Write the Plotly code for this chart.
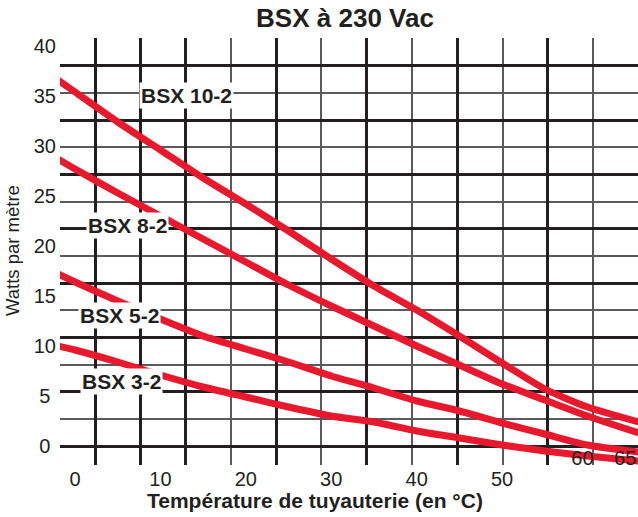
import plotly.graph_objects as go

# ---------------- data ----------------
temps = [-2, 0, 5, 10, 15, 20, 25, 30, 35, 40, 45, 50, 55, 60, 66]
bsx_10_2 = [36.6, 35.4, 32.4, 29.6, 26.8, 24.2, 21.5, 18.7, 16.0, 13.6, 11.0, 8.3, 5.7, 3.9, 2.4]
bsx_8_2 = [28.7, 27.7, 25.3, 23.0, 20.7, 18.4, 16.1, 14.0, 12.0, 10.0, 8.1, 6.2, 4.6, 3.0, 1.3]
bsx_5_2 = [17.2, 16.4, 14.5, 12.7, 11.0, 9.7, 8.4, 7.0, 5.8, 4.5, 3.5, 2.3, 1.2, 0.1, -0.6]
bsx_3_2 = [10.0, 9.6, 8.4, 7.1, 5.9, 4.9, 3.9, 3.0, 2.4, 1.5, 0.8, 0.1, -0.5, -1.0, -1.5]

series_names = ["BSX 10-2", "BSX 8-2", "BSX 5-2", "BSX 3-2"]
series_values = [bsx_10_2, bsx_8_2, bsx_5_2, bsx_3_2]
label_x = [13.1, 6.1, 5.15, 5.4]
label_y = [35.1, 22.1, 13.1, 6.5]

x_ticks_outer = [0, 10, 20, 30, 40, 50]
x_ticks_inner = [60, 65]
y_ticks = [0, 5, 10, 15, 20, 25, 30, 35, 40]

title_text = "BSX à 230 Vac"
x_title = "Température de tuyauterie (en °C)"
y_title = "Watts par mètre"

# ---------------- styling ----------------
RED = "#E8192C"
INK = "#231F20"
FONT = "Liberation Sans, Arial, sans-serif"
X_RANGE = [-1.76, 65.92]
Y_RANGE = [-1.9, 40.8]

W, H = 638, 517
ML, MT, MB = 60, 38, 52
PW, PH = W - ML, H - MT - MB

fig = go.Figure()

for name, vals in zip(series_names, series_values):
    fig.add_trace(go.Scatter(
        x=temps, y=vals, mode="lines", name=name,
        line=dict(color=RED, width=7, shape="spline", smoothing=0.6),
        showlegend=False, hoverinfo="skip",
    ))

# empty traces to activate the overlay axes (grid + inner tick labels)
fig.add_trace(go.Scatter(x=[], y=[], xaxis="x2", yaxis="y2", showlegend=False, hoverinfo="skip"))
fig.add_trace(go.Scatter(x=[], y=[], xaxis="x3", yaxis="y", showlegend=False, hoverinfo="skip"))

for name, lx, ly in zip(series_names, label_x, label_y):
    fig.add_annotation(
        x=lx, y=ly, xref="x", yref="y", text="<b>%s</b>" % name,
        showarrow=False, bgcolor="white", borderpad=1,
        font=dict(family=FONT, size=21, color=INK),
    )

fig.add_annotation(
    x=(315 - ML) / PW, y=-35 / PH, xref="paper", yref="paper",
    text="<b>%s</b>" % x_title, showarrow=False,
    font=dict(family=FONT, size=21, color=INK), yanchor="middle",
)
fig.add_annotation(
    x=-(ML - 12) / PW, y=(MT + PH - 251) / PH, xref="paper", yref="paper", text=y_title,
    textangle=-90, showarrow=False, font=dict(family=FONT, size=18.5, color=INK),
    xanchor="center", yanchor="middle",
)

y_ticktext = [("%d\u00a0" % v) if v < 10 else str(v) for v in y_ticks]

fig.update_layout(
    width=W, height=H,
    margin=dict(l=ML, r=0, t=MT, b=MB, autoexpand=False),
    paper_bgcolor="white", plot_bgcolor="white",
    title=dict(text="<b>%s</b>" % title_text, x=(345 - ML) / PW, xref="paper",
               y=1 - 18 / H, yref="container", xanchor="center", yanchor="middle",
               font=dict(family=FONT, size=26, color=INK)),
    xaxis=dict(range=X_RANGE, showgrid=False, zeroline=False, showline=False, automargin=False,
               tickmode="array", tickvals=x_ticks_outer, ticks="",
               tickfont=dict(family=FONT, size=20, color=INK)),
    xaxis3=dict(range=X_RANGE, overlaying="x", anchor="y", side="bottom", automargin=False,
                showgrid=False, zeroline=False, showline=False,
                tickmode="array", tickvals=x_ticks_inner, ticks="",
                ticklabelstandoff=-21, ticklabelshift=-5,
                tickfont=dict(family=FONT, size=20, color=INK)),
    yaxis=dict(range=Y_RANGE, showgrid=False, zeroline=False, showline=False, automargin=False,
               tickmode="array", tickvals=y_ticks, ticktext=y_ticktext, ticks="",
               ticklabelstandoff=3,
               tickfont=dict(family=FONT, size=20, color=INK)),
    xaxis2=dict(range=[-0.773, 11.99], overlaying="x", anchor="y2", side="top", automargin=False,
                showticklabels=False, ticks="", zeroline=False, showline=False,
                tickmode="array", tickvals=[0, 1, 2, 4, 6, 8, 10],
                showgrid=True, gridcolor=INK, gridwidth=3,
                minor=dict(tickmode="array", tickvals=[3, 5, 7, 9, 11],
                           showgrid=True, gridcolor="#5a5a5c", gridwidth=2)),
    yaxis2=dict(range=[-0.70, 15.03], overlaying="y", anchor="x2", side="right", automargin=False,
                showticklabels=False, ticks="", zeroline=False, showline=False,
                tickmode="array", tickvals=[0, 2, 4, 6, 8, 10, 12, 14],
                showgrid=True, gridcolor=INK, gridwidth=3,
                minor=dict(tickmode="array", tickvals=[1, 3, 5, 7, 9, 11, 13, 15],
                           showgrid=True, gridcolor="#5a5a5c", gridwidth=2)),
)

# remove the default 8px page margin so the figure fills the window exactly
fig.write_html("out.html", config={"displayModeBar": False},
               post_script="document.body.style.margin='0';")
